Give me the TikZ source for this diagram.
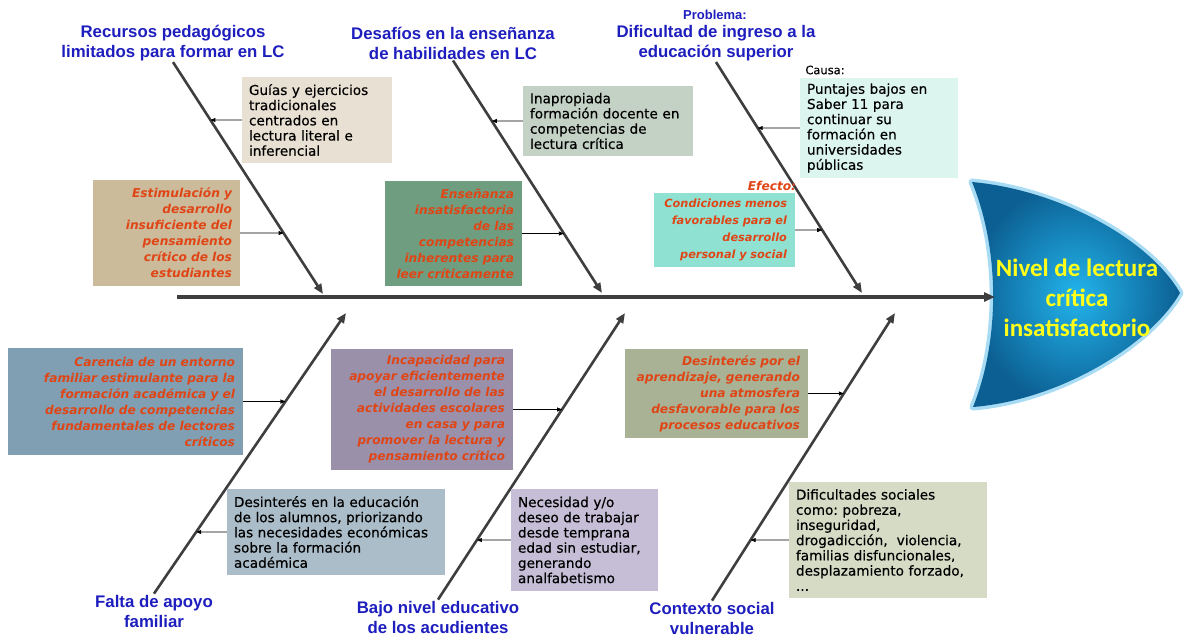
\documentclass[tikz,border=0pt]{standalone}
\usepackage{fontspec}
\setmainfont{Liberation Sans}
\newfontfamily\boxfont{DejaVu Sans}
\newfontfamily\notefont{DejaVu Sans}[FakeBold=0.4]
\newfontfamily\headfont{Carlito}
\usetikzlibrary{arrows.meta}
\frenchspacing
\definecolor{titleblue}{HTML}{1E1EBE}
\definecolor{effectred}{HTML}{E04516}
\definecolor{bonegray}{HTML}{3E3E3E}
\definecolor{cguias}{HTML}{E8E0D2}
\definecolor{cestim}{HTML}{CBBB9B}
\definecolor{cinaprop}{HTML}{C4D1C5}
\definecolor{censen}{HTML}{6F9D7F}
\definecolor{cpunt}{HTML}{DDF5EF}
\definecolor{ccond}{HTML}{8FE2D2}
\definecolor{ccaren}{HTML}{809FB2}
\definecolor{cincap}{HTML}{9A90AA}
\definecolor{cdesap}{HTML}{A9B294}
\definecolor{cdesed}{HTML}{AABDC8}
\definecolor{cneces}{HTML}{C5BED6}
\definecolor{cdific}{HTML}{D6DBC6}
\definecolor{headin}{HTML}{22B4EC}
\definecolor{headout}{HTML}{0C5F92}
\definecolor{headglow}{HTML}{A8DCF4}
\definecolor{headtext}{HTML}{FFFF1A}
\begin{document}
\begin{tikzpicture}[x=1pt, y=-1pt,
  title/.style={font=\fontsize{16.8}{20}\selectfont\bfseries, text=titleblue, align=center, inner sep=1pt},
  note/.style={font=\notefont\fontsize{13.6}{15.2}\selectfont, align=left, inner xsep=7pt, inner ysep=2pt},
  effect/.style={font=\boxfont\bfseries\itshape\fontsize{12.2}{16}\selectfont, text=effectred, align=right, inner xsep=8pt, inner ysep=2pt},
  spine/.style={line width=3.2pt, draw=bonegray, -{Triangle[length=11pt,width=9pt]}},
  bone/.style={line width=2.6pt, draw=bonegray, -{Triangle[length=10pt,width=8pt]}},
  link/.style={line width=0.7pt, -{Triangle[length=5pt,width=4pt]}}]
  \useasboundingbox (0,0) rectangle (1184,637);
  % head
  \path[preaction={draw=headglow, line width=7pt, line join=round}, shading=radial, inner color=headin, outer color=headout]
    (972,182) .. controls (1060,190) and (1150,240) .. (1180,293)
    .. controls (1150,345) and (1060,400) .. (973,407)
    .. controls (1000,340) and (1000,250) .. (972,182) -- cycle;
  \node[font=\headfont\bfseries\fontsize{25}{30}\selectfont, text=headtext, align=center] (nivel) at (1077,298) {Nivel de lectura\\crítica\\insatisfactorio};
  \coordinate (tail) at (177,297);
  \coordinate (mouth) at (995,297);
  \draw[spine] (tail) -- (mouth);
  % titles
  \node[title] (recursos) at (173,43) {Recursos pedagógicos\\limitados para formar en LC};
  \node[title] (desafios) at (453,43) {Desafíos en la enseñanza\\de habilidades en LC};
  \node[title] (dificultad) at (716,43) {Dificultad de ingreso a la\\educación superior};
  \node[title, font=\fontsize{13}{15}\selectfont\bfseries] (problema) at (715,15) {Problema:};
  \node[title] (falta) at (154,611) {Falta de apoyo\\familiar};
  \node[title] (bajo) at (438,617) {Bajo nivel educativo\\de los acudientes};
  \node[title] (contexto) at (712,618) {Contexto social\\vulnerable};
  % bones
  \coordinate (t1) at (323,294); \coordinate (t2) at (602,293); \coordinate (t3) at (862,293);
  \coordinate (t4) at (346,313); \coordinate (t5) at (625,313); \coordinate (t6) at (895,313);
  \draw[bone] (recursos.south) -- (t1);
  \draw[bone] (desafios.south) -- (t2);
  \draw[bone] (dificultad.south) -- (t3);
  \draw[bone] (falta.north) -- (t4);
  \draw[bone] (bajo.north) -- (t5);
  \draw[bone] (contexto.north) -- (t6);
  % 1: Recursos pedagogicos
  \node[note, fill=cguias, text width=136pt, minimum height=86pt] (guias) at (317,120) {Guías y ejercicios\\tradicionales\\centrados en\\lectura literal e\\inferencial};
  \node[effect, fill=cestim, text width=131pt, minimum height=106pt] (estim) at (166.5,233) {Estimulación y\\desarrollo\\insuficiente del\\pensamiento\\crítico de los\\estudiantes};
  \draw[link] (guias.west) -- (intersection of guias.west--guias.east and recursos.south--t1);
  \draw[link] (estim.east) -- (intersection of estim.west--estim.east and recursos.south--t1);
  % 2: Desafios
  \node[note, fill=cinaprop, text width=156pt, minimum height=70pt] (inaprop) at (608,121) {Inapropiada\\formación docente en\\competencias de\\lectura crítica};
  \node[effect, fill=censen, text width=121pt, minimum height=105pt] (ensen) at (453.5,233.5) {Enseñanza\\insatisfactoria\\de las\\competencias\\inherentes para\\leer críticamente};
  \draw[link] (inaprop.west) -- (intersection of inaprop.west--inaprop.east and desafios.south--t2);
  \draw[link] (ensen.east) -- (intersection of ensen.west--ensen.east and desafios.south--t2);
  % 3: Dificultad de ingreso
  \node[note, font=\notefont\fontsize{11.5}{13}\selectfont, inner sep=0pt] (causa) at (825,70) {Causa:};
  \node[note, fill=cpunt, text width=144pt, minimum height=100pt] (puntajes) at (879,128) {Puntajes bajos en\\Saber 11 para\\continuar su\\formación en\\universidades\\públicas};
  \node[effect, inner sep=0pt] (efecto) at (772,186) {Efecto:};
  \node[effect, fill=ccond, text width=125pt, minimum height=74pt, font=\boxfont\bfseries\itshape\fontsize{11.3}{17}\selectfont] (condic) at (724.5,230) {Condiciones menos\\favorables para el\\desarrollo\\personal y social};
  \draw[link] (puntajes.west) -- (intersection of puntajes.west--puntajes.east and dificultad.south--t3);
  \draw[link] (condic.east) -- (intersection of condic.west--condic.east and dificultad.south--t3);
  % 4: Falta de apoyo
  \node[effect, fill=ccaren, text width=219pt, minimum height=107pt] (carencia) at (125.5,401.5) {Carencia de un entorno\\familiar estimulante para la\\formación académica y el\\desarrollo de competencias\\fundamentales de lectores\\críticos};
  \node[note, fill=cdesed, text width=204pt, minimum height=86pt] (desedu) at (336,532) {Desinterés en la educación\\de los alumnos, priorizando\\las necesidades económicas\\sobre la formación\\académica};
  \draw[link] (carencia.east) -- (intersection of carencia.west--carencia.east and falta.north--t4);
  \draw[link] (desedu.west) -- (intersection of desedu.west--desedu.east and falta.north--t4);
  % 5: Bajo nivel educativo
  \node[effect, fill=cincap, text width=166pt, minimum height=121pt] (incapac) at (422,409.5) {Incapacidad para\\apoyar eficientemente\\el desarrollo de las\\actividades escolares\\en casa y para\\promover la lectura y\\pensamiento crítico};
  \node[note, fill=cneces, text width=133pt, minimum height=102pt] (neces) at (584.5,540) {Necesidad y/o\\deseo de trabajar\\desde temprana\\edad sin estudiar,\\generando\\analfabetismo};
  \draw[link] (incapac.east) -- (intersection of incapac.west--incapac.east and bajo.north--t5);
  \draw[link] (neces.west) -- (intersection of neces.west--neces.east and bajo.north--t5);
  % 6: Contexto social
  \node[effect, fill=cdesap, text width=167pt, minimum height=89pt] (desap) at (716.5,393.5) {Desinterés por el\\aprendizaje, generando\\una atmosfera\\desfavorable para los\\procesos educativos};
  \node[note, fill=cdific, text width=184pt, minimum height=116pt] (dific) at (888,540) {Dificultades sociales\\como: pobreza,\\inseguridad,\\drogadicción,\ \ violencia,\\familias disfuncionales,\\desplazamiento forzado,\\...};
  \draw[link] (desap.east) -- (intersection of desap.west--desap.east and contexto.north--t6);
  \draw[link] (dific.west) -- (intersection of dific.west--dific.east and contexto.north--t6);
\end{tikzpicture}
\end{document}
